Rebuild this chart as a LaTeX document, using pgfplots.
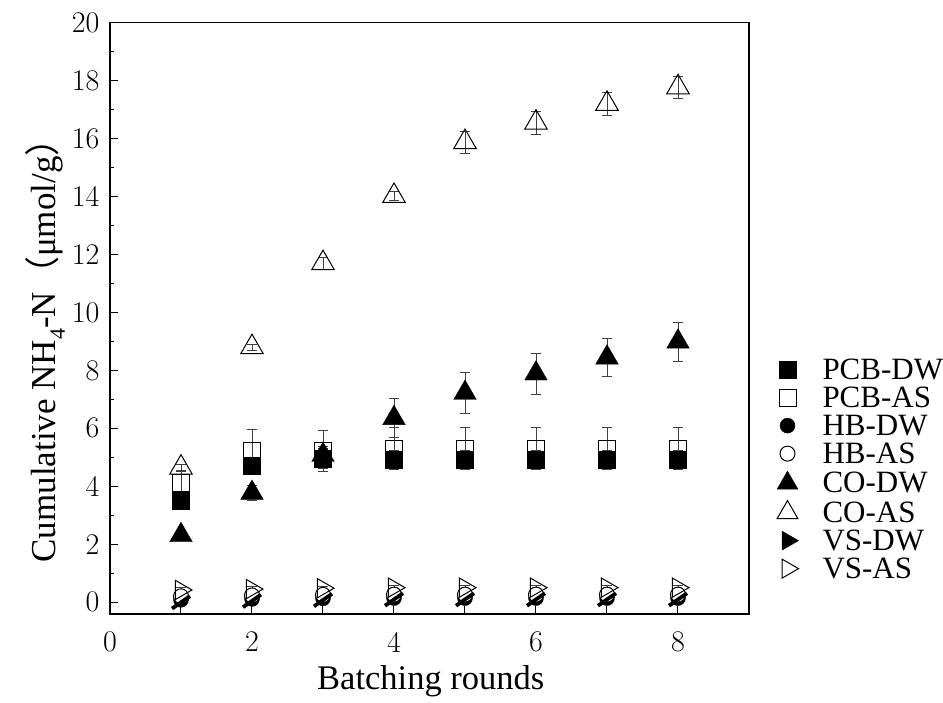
\documentclass[border=0pt]{standalone}
\usepackage{pgfplots}
\pgfplotsset{compat=1.18}
\usepackage{fontspec}
\setmainfont{Liberation Serif}
\newfontfamily\cjk{Noto Sans CJK SC}
\newfontfamily\lmr{Latin Modern Roman}
\pgfdeclareplotmark{slash}{%
  \pgfsetlinewidth{3.8pt}%
  \pgfpathmoveto{\pgfqpoint{-9pt}{-6.5pt}}%
  \pgfpathlineto{\pgfqpoint{9pt}{6pt}}%
  \pgfusepathqstroke}
\pgfplotsset{
  eb/.style={
    error bars/y dir=both, error bars/y explicit,
    error bars/error bar style={line width=0.8pt, black!75, solid},
    error bars/error mark options={rotate=90, mark size=5pt, line width=0.8pt, black!75, solid}},
}
\begin{document}
\begin{tikzpicture}
\useasboundingbox (-110pt,-88pt) rectangle (833pt,614pt);
\begin{axis}[
  at={(0pt,0pt)}, anchor=south west,
  scale only axis, width=639pt, height=591.3pt,
  xmin=0, xmax=9, ymin=-0.41, ymax=20,
  xtick={0,1,...,9}, xticklabels={0,,2,,4,,6,,8,},
  ytick={0,2,...,20}, minor ytick={1,3,...,19},
  tick pos=left, tick align=inside,
  major tick length=8pt, minor tick length=4.5pt,
  axis line style={line width=1.2pt},
  every tick/.style={line width=1pt, black},
  /pgf/number format/assume math mode=true,
  tick label style={font=\lmr\fontsize{30}{30}\selectfont, inner sep=0pt},
  yticklabel style={anchor=east, xshift=-10.5pt},
  xticklabel style={anchor=center, yshift=-28pt},
  xlabel={Batching rounds},
  ylabel={Cumulative NH\raisebox{-0.28em}{\fontsize{22}{22}\selectfont 4}-N{\cjk（}μmol/g{\cjk）}},
  xlabel style={font=\fontsize{34.5}{34.5}\selectfont, at={(axis description cs:0.502,-0.113)}, anchor=center},
  ylabel style={font=\fontsize{35}{35}\selectfont, at={(axis description cs:-0.1017,0.46)}, anchor=center, rotate=0},
  legend style={draw=none, fill=none, at={(axis description cs:1.039,0.245)}, anchor=west,
    font=\fontsize{31}{31}\selectfont, column sep=24pt, row sep=7pt,
    nodes={inner sep=0pt, text height=20pt, text depth=1pt}},
  legend cell align=left,
]
\addplot[only marks, black, mark=square*, mark size=8.5pt, mark options={fill=black}, eb] coordinates {
(1,3.5) +- (0,0.3) (2,4.7) +- (0,0.3) (3,4.95) +- (0,0.35) (4,4.92) +- (0,0.32)
(5,4.92) +- (0,0.32) (6,4.92) +- (0,0.32) (7,4.92) +- (0,0.32) (8,4.92) +- (0,0.32)};
\addplot[only marks, black, mark=square, mark size=8.5pt, mark options={fill=none, line width=1pt}, eb] coordinates {
(1,4.1) +- (0,0.42) (2,5.2) +- (0,0.75) (3,5.22) +- (0,0.7) (4,5.3) +- (0,0.73)
(5,5.3) +- (0,0.73) (6,5.3) +- (0,0.73) (7,5.3) +- (0,0.73) (8,5.3) +- (0,0.73)};
\addplot[only marks, black, mark=*, mark size=7.5pt, mark options={fill=black}, eb] coordinates {
(1,0.08) +- (0,0.05) (2,0.11) +- (0,0.05) (3,0.13) +- (0,0.05) (4,0.14) +- (0,0.05)
(5,0.14) +- (0,0.05) (6,0.14) +- (0,0.05) (7,0.14) +- (0,0.05) (8,0.14) +- (0,0.05)};
\addplot[only marks, black, mark=*, mark size=7.5pt, mark options={fill=white, line width=1pt},
  legend image code/.code={\draw[black, fill=white, line width=1pt] plot[mark=*, mark size=7.5pt] coordinates {(0.3cm,0cm)};}, eb] coordinates {
(1,0.2) +- (0,0.08) (2,0.23) +- (0,0.08) (3,0.25) +- (0,0.08) (4,0.26) +- (0,0.08)
(5,0.26) +- (0,0.08) (6,0.26) +- (0,0.08) (7,0.26) +- (0,0.08) (8,0.26) +- (0,0.08)};
\addplot[only marks, black, mark=triangle*, mark size=13pt, mark options={fill=black},
  legend image code/.code={\draw[black, fill=black] plot[mark=triangle*, mark size=12pt] coordinates {(0.3cm,0cm)};}, eb] coordinates {
(1,2.31) +- (0,0.05) (2,3.77) +- (0,0.27) (3,5.08) +- (0,0.3) (4,6.35) +- (0,0.67)
(5,7.22) +- (0,0.71) (6,7.89) +- (0,0.71) (7,8.44) +- (0,0.66) (8,8.99) +- (0,0.67)};
\addplot[only marks, black, mark=triangle, mark size=13pt, mark options={fill=none, line width=1pt},
  legend image code/.code={\draw[black, line width=1pt] plot[mark=triangle, mark size=12pt] coordinates {(0.3cm,0cm)};}, eb] coordinates {
(1,4.64) +- (0,0.11) (2,8.8) +- (0,0.1) (3,11.7) +- (0,0.2) (4,14.02) +- (0,0.15)
(5,15.88) +- (0,0.38) (6,16.55) +- (0,0.4) (7,17.2) +- (0,0.4) (8,17.77) +- (0,0.39)};
\addplot[only marks, black, mark=slash, mark size=10pt, eb,
  legend image code/.code={\draw[black, fill=black] plot[mark=triangle*, mark size=11pt, mark options={rotate=-90}] coordinates {(0.3cm,0cm)};}] coordinates {
(1,0.0) +- (0,0.05) (2,0.05) +- (0,0.05) (3,0.08) +- (0,0.05) (4,0.1) +- (0,0.05)
(5,0.1) +- (0,0.05) (6,0.1) +- (0,0.05) (7,0.1) +- (0,0.05) (8,0.1) +- (0,0.05)};
\addplot[only marks, black, mark=triangle, mark size=11pt, mark options={rotate=-90, fill=none, line width=1pt}, eb] coordinates {
(1,0.42) +- (0,0.08) (2,0.45) +- (0,0.08) (3,0.48) +- (0,0.08) (4,0.5) +- (0,0.08)
(5,0.5) +- (0,0.08) (6,0.5) +- (0,0.08) (7,0.5) +- (0,0.08) (8,0.5) +- (0,0.08)};
\legend{PCB-DW, PCB-AS, HB-DW, HB-AS, CO-DW, CO-AS, VS-DW, VS-AS}
\end{axis}
\end{tikzpicture}
\end{document}
